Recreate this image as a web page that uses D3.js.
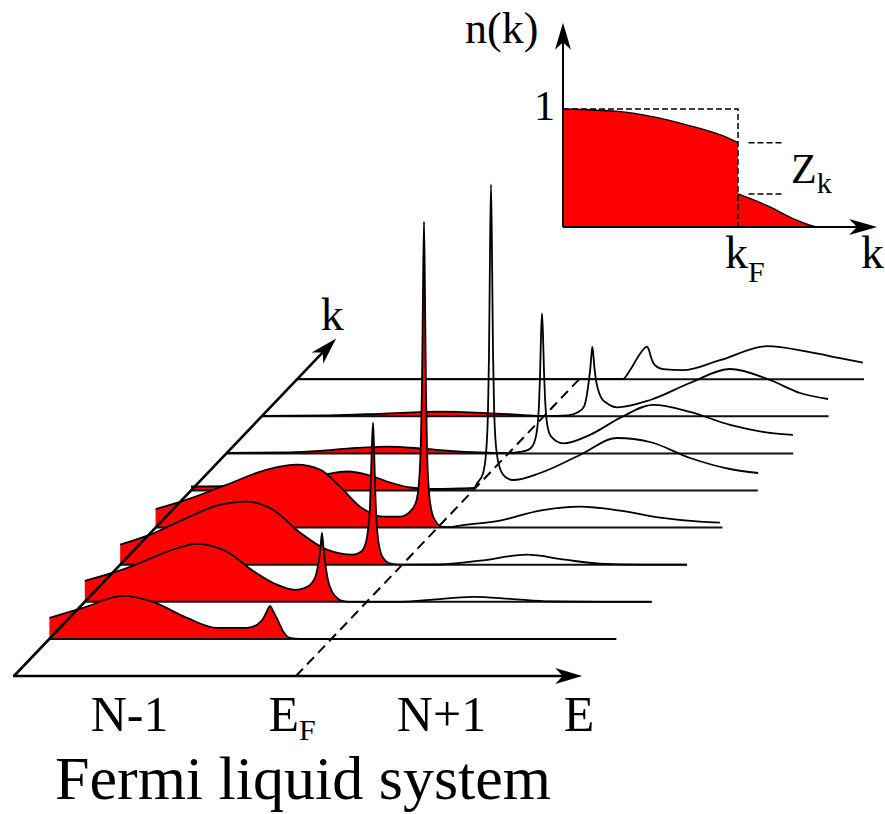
<!DOCTYPE html>
<html><head><meta charset="utf-8">
<script src="https://cdn.jsdelivr.net/npm/d3@7"></script>
<style>
html,body{margin:0;padding:0;background:#fff;}
svg{display:block;}
</style></head><body>
<svg id="chart" width="885" height="814"></svg>
<script>
// ---------- DATA ----------
// k rows (0 = E axis itself, 1..8 spectra, front to back)
const kRows = [1, 2, 3, 4, 5, 6, 7, 8];
// spectral function A(k,E): [E (E_F = 0), intensity (a.u.)]
const specK1 = [[-10,21],[-8.81,31],[-7.39,43],[-6.33,37],[-5.12,21],[-4.06,11],[-2.99,11],[-2.60,15],[-2.43,20],[-2.28,28],[-2.18,33],[-2.07,28],[-1.89,18],[-1.72,8],[-1.47,1],[-1.11,0],[10.1,0]];
const specK2 = [[-10,21],[-8.29,36],[-7.09,50],[-6.02,58],[-4.96,50],[-4.04,31],[-3.26,18],[-2.55,12],[-2.19,14],[-1.94,19],[-1.80,27],[-1.71,40],[-1.64,55],[-1.59,69],[-1.54,55],[-1.47,38],[-1.38,22],[-1.23,10],[-1.06,4],[-0.88,1],[-0.60,0],[1.18,0],[2.24,2],[3.77,5],[5.08,3],[6.50,0.3],[8.27,0],[10.1,0]];
const specK3 = [[-10,20],[-8.94,30],[-7.77,45],[-6.57,59],[-5.50,63],[-4.58,55],[-3.62,32],[-2.67,15],[-1.75,10],[-1.46,13],[-1.28,23],[-1.20,38],[-1.14,60],[-1.11,87],[-1.07,122],[-1.035,142],[-1.00,118],[-0.965,82],[-0.93,54],[-0.88,32],[-0.79,15],[-0.68,7],[-0.40,1],[-0.08,0],[1.34,0.2],[2.76,4],[4.43,10],[5.77,5],[7.01,1],[8.43,0],[10.1,0]];
const specK4 = [[-10,18.5],[-8.89,28],[-7.47,43],[-6.05,58],[-4.99,63],[-4.17,58],[-3.46,41],[-2.75,21],[-1.94,11],[-1.33,11],[-0.98,16],[-0.77,25],[-0.66,45],[-0.59,89],[-0.553,143],[-0.518,236],[-0.482,306],[-0.447,230],[-0.411,135],[-0.376,80],[-0.305,36],[-0.20,15],[-0.06,6],[0.12,1],[0.44,0.5],[0.79,2],[2.21,7],[3.63,17],[5.05,21],[6.47,17],[7.89,10],[9.30,6],[10.01,5]];
const specK5 = [[-10,4],[-8.26,4.5],[-6.84,6],[-5.96,12],[-5.25,16],[-4.47,19],[-3.65,15],[-2.94,8],[-2.23,3],[-1.53,1.5],[-0.46,2],[0.035,2.5],[0.142,7],[0.355,17],[0.461,37],[0.532,80],[0.567,135],[0.603,236],[0.638,306],[0.674,236],[0.709,140],[0.745,86],[0.816,44],[0.957,22],[1.17,13],[1.42,10.5],[2.38,17.5],[3.79,35.5],[5.11,52.5],[6.28,48.5],[7.70,32.5],[9.11,21.5],[10.11,17.5]];
const specK6 = [[-10,0.5],[-7.75,1],[-6.68,2.5],[-5.62,5],[-4.31,6.7],[-3.14,5],[-2.07,2.5],[-1.01,1],[0.02,0.5],[0.41,1.5],[0.70,3.5],[0.87,8],[1.014,23],[1.085,49],[1.121,77],[1.156,117],[1.191,140],[1.227,118],[1.262,82],[1.298,56],[1.369,30],[1.51,17],[1.94,10],[2.89,18.5],[3.96,35.5],[5.13,48.5],[6.44,41.5],[7.86,28.5],[9.28,20.5],[10.09,18.5]];
const specK7 = [[-10,0.5],[-7.58,1],[-5.81,2.5],[-3.68,4.6],[-1.91,3],[-0.84,1.5],[0.04,0.3],[0.86,1],[1.21,4],[1.43,10],[1.53,22],[1.60,36],[1.656,50],[1.691,62],[1.72,69.5],[1.755,62],[1.798,48],[1.851,36],[1.922,27],[2.028,19],[2.24,13],[2.60,9],[3.77,16.3],[5.18,33.3],[6.60,47.3],[8.02,36.3],[9.09,23.3],[10.08,17.3]];
const specK8 = [[-10,0],[0.03,0],[1.55,0.3],[1.80,9],[2.09,22.5],[2.30,30.5],[2.394,32.5],[2.475,29],[2.546,22],[2.688,14],[2.97,10],[3.68,9],[4.99,19],[6.66,33],[8.18,27],[9.25,21],[10.06,16.5]];
const spectra = [specK1, specK2, specK3, specK4, specK5, specK6, specK7, specK8];

// energy-axis labels
const energyLabels = ["N-1", "E", "N+1", "E"];
const energySubs   = ["", "F", "", ""];
const energyLabelE = [-5.90, -0.14, 5.16, 10.04];

// inset: momentum distribution n(k)
const nBelowK = [0, 0.33, 0.51, 0.71, 0.90, 1.0];
const nBelowN = [1.0, 0.977, 0.935, 0.864, 0.780, 0.715];
const nAboveK = [1.0, 1.18, 1.31, 1.47, 1.6];
const nAboveN = [0.28, 0.172, 0.074, 0.0, 0.0];
const kF = 1.0;
const zTop = 0.715, zBottom = 0.28;

// ---------- SCALES ----------
const RED = "#ff0000";
const FONT = "'Liberation Serif', 'DejaVu Serif', 'Noto Serif', Tinos, 'Nimbus Roman', 'Nimbus Roman No9 L', FreeSerif, 'Times New Roman', Times, serif";
const svg = d3.select("#chart").attr("font-family", FONT).style("font-family", FONT);
const xE = d3.scaleLinear().domain([-10, 10]).range([14, 578]);
const kx = d3.scaleLinear().domain([0, 8]).range([0, 283.2]);
const ky = d3.scaleLinear().domain([0, 8]).range([676, 379.2]);
const yA = d3.scaleLinear().domain([0, 300]).range([0, 300]);
const PX = (k, E) => xE(E) + kx(k);
const PY = (k, A) => ky(k) - yA(A);

function txt(g, x, y, size, s) {
  return g.append("text").attr("x", x).attr("y", y).attr("font-size", size)
    .attr("font-family", FONT).style("font-family", FONT).text(s);
}

function arrow(g, x1, y1, x2, y2, len, half, sw) {
  const a = Math.atan2(y2 - y1, x2 - x1), ux = Math.cos(a), uy = Math.sin(a);
  const bx = x2 - len * ux, by = y2 - len * uy;
  const nx = x2 - 0.72 * len * ux, ny = y2 - 0.72 * len * uy;
  g.append("line").attr("x1", x1).attr("y1", y1).attr("x2", nx).attr("y2", ny)
    .attr("stroke", "#000").attr("stroke-width", sw);
  g.append("path").attr("d",
    `M${x2},${y2}L${bx - half * uy},${by + half * ux}L${nx},${ny}L${bx + half * uy},${by - half * ux}Z`)
    .attr("fill", "#000");
}

const defs = svg.append("defs");
const main = svg.append("g");

// Fermi-level dashed line
main.append("line")
  .attr("x1", PX(0, 0)).attr("y1", ky(0)).attr("x2", PX(8, 0)).attr("y2", ky(8))
  .attr("stroke", "#000").attr("stroke-width", 2).attr("stroke-dasharray", "10,6");

// rows back to front
kRows.slice().reverse().forEach(k => {
  const data = spectra[k - 1];
  defs.append("clipPath").attr("id", "occ" + k).append("rect")
    .attr("x", PX(k, -10) - 2).attr("y", 0)
    .attr("width", PX(k, 0) - PX(k, -10) + 2).attr("height", ky(k) + 1);
  const area = d3.area().x(d => PX(k, d[0])).y0(ky(k)).y1(d => PY(k, d[1])).curve(d3.curveMonotoneX);
  const line = d3.line().x(d => PX(k, d[0])).y(d => PY(k, d[1])).curve(d3.curveMonotoneX);
  const g = main.append("g");
  g.append("path").attr("d", area(data)).attr("fill", RED).attr("clip-path", `url(#occ${k})`);
  g.append("line").attr("x1", PX(k, -10)).attr("y1", ky(k)).attr("x2", PX(k, 10.1)).attr("y2", ky(k))
    .attr("stroke", "#111").attr("stroke-width", 2);
  g.append("path").attr("d", line(data)).attr("fill", "none")
    .attr("stroke", "#000").attr("stroke-width", 1.8).attr("stroke-linejoin", "round");
});

// axes
arrow(main, PX(0, -10) - 1, ky(0), PX(0, 10.15), ky(0), 27, 8, 2.6);
arrow(main, PX(0, -10), ky(0), PX(9.1, -10), ky(9.1), 27, 8, 2.6);

// labels
txt(main, PX(9.1, -10) - 4, 330, 46, "k").attr("text-anchor", "middle");
energyLabels.forEach((t, i) => {
  const tx = txt(main, xE(energyLabelE[i]), 731, 50, t).attr("text-anchor", "middle");
  if (energySubs[i]) tx.append("tspan").attr("font-size", 30).attr("dy", 9).text(energySubs[i]);
});
txt(main, 55, 799, 62, "Fermi liquid system");

// ---------- INSET ----------
const kIn = d3.scaleLinear().domain([0, 1.8]).range([563, 878]);
const nIn = d3.scaleLinear().domain([0, 1]).range([227, 109]);
const inset = svg.append("g");
const below = nBelowK.map((k, i) => [k, nBelowN[i]]);
const above = nAboveK.map((k, i) => [k, nAboveN[i]]);
const nArea = d3.area().x(d => kIn(d[0])).y0(nIn(0)).y1(d => nIn(d[1])).curve(d3.curveMonotoneX);
const nLine = d3.line().x(d => kIn(d[0])).y(d => nIn(d[1])).curve(d3.curveMonotoneX);
[below, above].forEach(seg => {
  inset.append("path").attr("d", nArea(seg)).attr("fill", RED);
  inset.append("path").attr("d", nLine(seg)).attr("fill", "none").attr("stroke", "#000").attr("stroke-width", 1.3);
});
// dashed reference step
inset.append("path")
  .attr("d", `M${kIn(0)},${nIn(1)}H${kIn(kF)}V${nIn(0)}`)
  .attr("fill", "none").attr("stroke", "#000").attr("stroke-width", 1.5).attr("stroke-dasharray", "6,3");
[zTop, zBottom].forEach(z => {
  inset.append("line").attr("x1", kIn(1.06)).attr("x2", kIn(1.26)).attr("y1", nIn(z)).attr("y2", nIn(z))
    .attr("stroke", "#000").attr("stroke-width", 1.5).attr("stroke-dasharray", "6,3");
});
arrow(inset, kIn(0), nIn(0), kIn(0), nIn(1.73), 27, 8, 2);
arrow(inset, kIn(0), nIn(0), kIn(1.795), nIn(0), 28, 8, 2);

txt(inset, 465, 43, 44, "n(k)");
txt(inset, kIn(0) - 8, nIn(1) + 11, 42, "1").attr("text-anchor", "end");
const zt = txt(inset, 791, 183, 42, "Z");
zt.append("tspan").attr("font-size", 30).attr("dy", 10).text("k");
const kft = txt(inset, kIn(kF) - 13, 268, 46, "k");
kft.append("tspan").attr("font-size", 30).attr("dy", 14).text("F");
txt(inset, 861, 268, 46, "k");
</script>
</body></html>
